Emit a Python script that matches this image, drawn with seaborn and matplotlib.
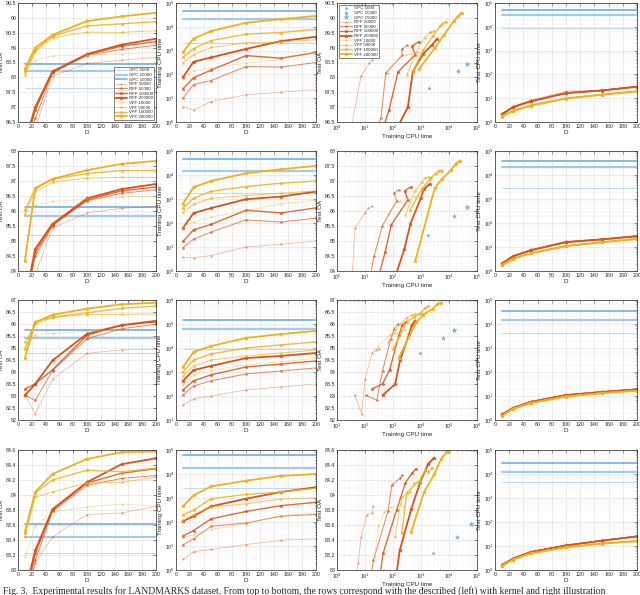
import matplotlib
matplotlib.use("Agg")
import matplotlib.pyplot as plt
import seaborn as sns
from matplotlib.ticker import LogLocator, MultipleLocator, FuncFormatter, NullFormatter

# D values (number of features)
D = [10, 25, 50, 100, 150, 200]
rff_labels = ["RFF 10000", "RFF 50000", "RFF 100000", "RFF 200000"]
vff_labels = ["VFF 10000", "VFF 50000", "VFF 100000", "VFF 200000"]
gpc_labels = ["GPC 5000", "GPC 10000", "GPC 15000"]

# ---- row 1 ----
oa_rff_1 = [[85.3, 86.3, 88.04, 88.47, 88.58, 88.67],
            [85.5, 86.62, 88.15, 88.74, 88.94, 89.08],
            [85.6, 86.9, 88.18, 88.76, 89.05, 89.2],
            [85.8, 87.0, 88.2, 88.78, 89.1, 89.3]]
oa_vff_1 = [[88.15, 88.57, 88.72, 88.75, 88.79, 88.84],
            [88.08, 88.86, 89.34, 89.52, 89.51, 89.57],
            [88.2, 88.91, 89.39, 89.73, 89.8, 89.87],
            [88.28, 89.0, 89.43, 89.89, 90.05, 90.17]]
gpc_oa_1 = [87.65, 88.2, 88.45]
train_rff_1 = [[4.4, 3.2, 7.2, 14, 18, 23],
               [10, 37, 55, 214, 204, 316],
               [25, 72, 151, 617, 479, 832],
               [76, 339, 513, 1175, 2510, 3800]]
train_vff_1 = [[66, 141, 190, 295, 437, 850],
               [316, 676, 1350, 2140, 2290, 2880],
               [525, 1200, 2630, 4900, 5750, 7760],
               [850, 3200, 6600, 14800, 20900, 28800]]
gpc_train_1 = [2000, 20900, 44700]
test_rff_1 = [[2.3, 4.5, 8.2, 19.5, 22, 32],
              [2.2, 4.3, 7.6, 17, 21.5, 31],
              [2.1, 4.2, 7.4, 16.5, 21.3, 30.5],
              [2.1, 4.1, 7.3, 16.2, 21, 30]]
test_vff_1 = [[1.9, 3.1, 5.2, 10.5, 14.5, 20],
              [1.8, 3.0, 5.0, 10, 14.2, 19.6],
              [1.8, 2.9, 4.9, 9.8, 14, 19.4],
              [1.7, 2.9, 4.8, 9.7, 13.9, 19.2]]
gpc_test_1 = [8500, 31000, 49000]

# ---- row 2 ----
oa_rff_2 = [[82.5, 83.9, 85.43, 85.94, 86.09, 86.15],
            [82.8, 84.49, 85.51, 86.34, 86.59, 86.71],
            [82.9, 84.62, 85.54, 86.37, 86.67, 86.8],
            [83.0, 84.74, 85.57, 86.42, 86.73, 86.9]]
oa_vff_2 = [[85.9, 86.2, 86.32, 86.4, 86.47, 86.49],
            [85.87, 86.65, 86.96, 87.1, 87.12, 87.12],
            [86.04, 86.74, 87.06, 87.25, 87.35, 87.35],
            [84.35, 86.76, 87.07, 87.36, 87.57, 87.67]]
gpc_oa_2 = [85.19, 85.83, 86.12]
train_rff_2 = [[3.7, 3.5, 4.4, 10, 13, 18],
               [9.5, 21, 42, 135, 110, 158],
               [17, 52, 87, 339, 263, 427],
               [62, 257, 417, 977, 1260, 2040]]
train_vff_2 = [[68, 110, 174, 331, 631, 891],
               [275, 603, 1070, 1380, 1740, 2190],
               [417, 1070, 2090, 3310, 4570, 5620],
               [630, 3090, 5620, 11750, 17400, 24000]]
gpc_train_2 = [1780, 15100, 44700]
test_rff_2 = [[2.2, 4.4, 7.8, 17.5, 22, 30],
              [2.1, 4.2, 7.4, 16.3, 21, 29],
              [2.1, 4.1, 7.3, 16, 20.8, 28.5],
              [2.0, 4.0, 7.2, 15.8, 20.5, 28]]
test_vff_2 = [[1.9, 3.4, 5.8, 11.5, 16.5, 23],
              [1.8, 3.3, 5.6, 11.2, 16, 22.5],
              [1.8, 3.2, 5.5, 11, 15.8, 22],
              [1.7, 3.2, 5.4, 10.8, 15.5, 21.5]]
gpc_test_2 = [2900, 21400, 39800]

# ---- row 3 ----
oa_rff_3 = [[83.05, 82.26, 83.7, 84.78, 84.92, 84.95],
            [83.03, 82.82, 84.06, 85.39, 85.8, 85.99],
            [83.29, 83.51, 84.09, 85.53, 85.95, 86.09],
            [83.03, 83.5, 84.48, 85.59, 85.95, 86.13]]
oa_vff_3 = [[85.06, 85.55, 85.61, 85.7, 85.75, 85.75],
            [85.23, 85.99, 86.27, 86.39, 86.4, 86.42],
            [84.95, 86.1, 86.28, 86.47, 86.65, 86.75],
            [84.58, 86.07, 86.38, 86.64, 86.82, 86.89]]
gpc_oa_3 = [84.81, 85.43, 85.75]
train_rff_3 = [[43, 76, 100, 178, 240, 316],
               [110, 263, 427, 832, 1100, 1480],
               [178, 427, 759, 1620, 2140, 2880],
               [427, 1200, 1780, 3800, 4680, 6170]]
train_vff_3 = [[288, 759, 1200, 1950, 2630, 3800],
               [676, 1780, 3160, 4680, 6170, 8320],
               [1000, 3160, 5620, 10000, 13500, 17800],
               [1580, 6760, 12000, 26300, 38000, 51300]]
gpc_train_3 = [9100, 61700, 148000]
test_rff_3 = [[1.8, 3.3, 6.0, 11.5, 15.5, 20],
              [1.7, 3.2, 5.8, 11.2, 15, 19.5],
              [1.7, 3.1, 5.7, 11, 14.8, 19],
              [1.7, 3.1, 5.6, 10.8, 14.5, 18.8]]
test_vff_3 = [[1.6, 3.0, 5.3, 10, 13.8, 17.5],
              [1.6, 2.9, 5.2, 9.8, 13.5, 17],
              [1.5, 2.9, 5.1, 9.6, 13.2, 16.8],
              [1.5, 2.8, 5.0, 9.5, 13, 16.5]]
gpc_test_3 = [4300, 14800, 34700]

# ---- row 4 ----
oa_rff_4 = [[82.4, 83.1, 83.44, 83.74, 83.76, 83.85],
            [82.5, 83.13, 83.78, 84.13, 84.22, 84.26],
            [82.6, 83.22, 83.8, 84.16, 84.29, 84.35],
            [82.7, 83.26, 83.81, 84.17, 84.41, 84.49]]
oa_vff_4 = [[83.17, 83.59, 83.77, 83.84, 83.88, 83.85],
            [83.44, 83.97, 84.04, 84.16, 84.17, 84.24],
            [83.49, 84.03, 84.2, 84.33, 84.31, 84.36],
            [83.51, 84.04, 84.28, 84.48, 84.57, 84.58]]
gpc_oa_4 = [83.22, 83.44, 83.61]
train_rff_4 = [[2.8, 5.8, 7.2, 11.5, 17.4, 20],
               [11, 20, 66, 91, 174, 209],
               [26, 44, 135, 275, 479, 661],
               [107, 174, 447, 933, 1780, 2820]]
train_vff_4 = [[22, 30, 49, 85, 186, 224],
               [117, 204, 417, 575, 912, 1020],
               [204, 309, 933, 1410, 1780, 2570],
               [447, 1290, 3020, 5250, 8320, 10000]]
gpc_train_4 = [2690, 18600, 60300]
test_rff_4 = [[1.7, 3.1, 5.8, 11, 17.5, 26],
              [1.6, 3.0, 5.7, 10.7, 17, 25.5],
              [1.6, 3.0, 5.6, 10.5, 16.8, 25],
              [1.6, 2.95, 5.6, 10.5, 16.5, 25]]
test_vff_4 = [[1.5, 2.8, 5.2, 9.2, 13, 17],
              [1.5, 2.7, 5.0, 9.0, 12.8, 16.5],
              [1.5, 2.7, 5.0, 8.9, 12.6, 16],
              [1.45, 2.65, 4.9, 8.8, 12.5, 15.8]]
gpc_test_4 = [4680, 12600, 28200]

oa_lims = [(86.5, 90.5), (84, 88), (82, 87), (83, 84.6)]
oa_steps = [0.5, 0.5, 0.5, 0.2]
train_lims = [(1, 1e5), (1, 1e5), (10, 1e6), (1, 1e5)]
test_lims = [(1, 1e5), (1, 1e5), (1, 1e5), (1, 1e5)]

caption = ("Fig. 3.  Experimental results for LANDMARKS dataset. From top to bottom, the rows "
           "correspond with the described (left) with kernel and right illustration")

rows = [
    (oa_rff_1, oa_vff_1, gpc_oa_1, train_rff_1, train_vff_1, gpc_train_1, test_rff_1, test_vff_1, gpc_test_1),
    (oa_rff_2, oa_vff_2, gpc_oa_2, train_rff_2, train_vff_2, gpc_train_2, test_rff_2, test_vff_2, gpc_test_2),
    (oa_rff_3, oa_vff_3, gpc_oa_3, train_rff_3, train_vff_3, gpc_train_3, test_rff_3, test_vff_3, gpc_test_3),
    (oa_rff_4, oa_vff_4, gpc_oa_4, train_rff_4, train_vff_4, gpc_train_4, test_rff_4, test_vff_4, gpc_test_4),
]

# styles
RFF_C = "#d95319"
VFF_C = "#edb120"
GPC_C = ["#b3d5ee", "#a2cbea", "#6fafdf"]
GPC_LW = [0.6, 1.6, 1.2]
GPC_MS = [6, 9, 14]
ALPHA = [0.45, 0.65, 0.85, 1.0]
LW = [0.5, 0.75, 1.0, 1.3]
MS = [1.8, 2.2, 2.6, 3.0]

sns.set_style("white")
plt.rcParams["font.family"] = ["Liberation Sans", "DejaVu Sans"]
plt.rcParams["mathtext.default"] = "regular"

fig = plt.figure(figsize=(6.4, 5.95), dpi=100)
W, H = 640.0, 595.0
row_top = [3, 151, 300, 450]
row_bot = [122, 271, 420, 570]
col_l = [18, 176, 337, 495]
col_r = [156, 316, 477, 637]


def style_axes(ax, logx=False, logy=False):
    for s in ax.spines.values():
        s.set_color("#262626")
        s.set_linewidth(0.5)
    ax.tick_params(which="both", direction="in", top=True, right=True,
                   labelsize=3.8, pad=1.1, colors="#262626", width=0.4)
    ax.tick_params(which="major", length=2)
    ax.tick_params(which="minor", length=1)
    ax.grid(True, which="major", color="#dcdcdc", lw=0.4)
    if logx:
        ax.set_xscale("log")
        ax.xaxis.set_major_locator(LogLocator(base=10, numticks=10))
        ax.xaxis.set_minor_locator(LogLocator(base=10, subs=range(2, 10), numticks=100))
        ax.xaxis.set_minor_formatter(NullFormatter())
        ax.grid(True, which="minor", axis="x", color="#efefef", lw=0.3)
    if logy:
        ax.set_yscale("log")
        ax.yaxis.set_major_locator(LogLocator(base=10, numticks=10))
        ax.yaxis.set_minor_locator(LogLocator(base=10, subs=range(2, 10), numticks=100))
        ax.yaxis.set_minor_formatter(NullFormatter())
        ax.grid(True, which="minor", axis="y", color="#efefef", lw=0.3)
    ax.set_axisbelow(True)


def line(ax, x, y, color, lw, alpha, ms, label=None, sort=True):
    sns.lineplot(x=x, y=y, ax=ax, color=color, linewidth=lw, alpha=alpha,
                 marker="*", markersize=ms, markeredgecolor=color, markerfacecolor=color,
                 markeredgewidth=0.3, sort=sort, estimator=None, label=label, legend=False)


def d_axis(ax):
    ax.set_xlim(0, 200)
    ax.xaxis.set_major_locator(MultipleLocator(20))
    ax.set_xlabel("D", fontsize=4.5, labelpad=0.8)


gfmt = FuncFormatter(lambda v, p: "%g" % round(v, 2))

for r, (oa_rff, oa_vff, gpc_oa, tr_rff, tr_vff, gpc_tr, te_rff, te_vff, gpc_te) in enumerate(rows):
    axs = []
    for c in range(4):
        rect = [col_l[c] / W, 1 - row_bot[r] / H, (col_r[c] - col_l[c]) / W, (row_bot[r] - row_top[r]) / H]
        axs.append(fig.add_axes(rect))
    a1, a2, a3, a4 = axs

    # panel 1: Test OA vs D
    style_axes(a1)
    for i in range(3):
        sns.lineplot(x=D, y=[gpc_oa[i]] * len(D), ax=a1, color=GPC_C[i], linewidth=GPC_LW[i],
                     label=gpc_labels[i], legend=False)
    for i in range(4):
        line(a1, D, oa_rff[i], RFF_C, LW[i], ALPHA[i], MS[i], rff_labels[i])
    for i in range(4):
        line(a1, D, oa_vff[i], VFF_C, LW[i], ALPHA[i], MS[i], vff_labels[i])
    d_axis(a1)
    a1.set_ylim(*oa_lims[r])
    a1.yaxis.set_major_locator(MultipleLocator(oa_steps[r]))
    a1.yaxis.set_major_formatter(gfmt)
    a1.set_ylabel("Test OA", fontsize=4.3)
    a1.yaxis.set_label_coords((3.8 - col_l[0]) / (col_r[0] - col_l[0]), 0.5)

    # panel 2: Training CPU time vs D
    style_axes(a2, logy=True)
    for i in range(3):
        sns.lineplot(x=D, y=[gpc_tr[i]] * len(D), ax=a2, color=GPC_C[i], linewidth=GPC_LW[i], legend=False)
    for i in range(4):
        line(a2, D, tr_rff[i], RFF_C, LW[i], ALPHA[i], MS[i])
    for i in range(4):
        line(a2, D, tr_vff[i], VFF_C, LW[i], ALPHA[i], MS[i])
    d_axis(a2)
    a2.set_ylim(*train_lims[r])
    a2.set_ylabel("Training CPU time", fontsize=4.5, labelpad=1.5)

    # panel 3: Test OA vs Training CPU time
    style_axes(a3, logx=True)
    for i in range(3):
        sns.scatterplot(x=[gpc_tr[i]], y=[gpc_oa[i]], ax=a3, marker="*", s=GPC_MS[i],
                        color=GPC_C[2], edgecolor=GPC_C[2], linewidth=0.3,
                        label=gpc_labels[i], legend=False)
    for i in range(4):
        line(a3, tr_rff[i], oa_rff[i], RFF_C, LW[i], ALPHA[i], MS[i], rff_labels[i], sort=False)
    for i in range(4):
        line(a3, tr_vff[i], oa_vff[i], VFF_C, LW[i], ALPHA[i], MS[i], vff_labels[i], sort=False)
    a3.set_xlim(*train_lims[r])
    a3.set_ylim(*oa_lims[r])
    a3.yaxis.set_major_locator(MultipleLocator(oa_steps[r]))
    a3.yaxis.set_major_formatter(gfmt)
    a3.set_xlabel("Training CPU time", fontsize=4.5, labelpad=0.5)
    a3.set_ylabel("Test OA", fontsize=4.5, labelpad=1.5)

    # panel 4: Test CPU time vs D
    style_axes(a4, logy=True)
    for i in range(3):
        sns.lineplot(x=D, y=[gpc_te[i]] * len(D), ax=a4, color=GPC_C[i], linewidth=GPC_LW[i], legend=False)
    for i in range(4):
        line(a4, D, te_rff[i], RFF_C, LW[i], ALPHA[i], MS[i])
    for i in range(4):
        line(a4, D, te_vff[i], VFF_C, LW[i], ALPHA[i], MS[i])
    d_axis(a4)
    a4.set_ylim(*test_lims[r])
    a4.set_ylabel("Test CPU time", fontsize=4.5, labelpad=1.5)

    if r == 0:
        for ax, loc in ((a1, "lower right"), (a3, "upper left")):
            h, l = ax.get_legend_handles_labels()
            leg = ax.legend(h, l, loc=loc, fontsize=3.2, labelspacing=0.12, handlelength=2.6,
                            handletextpad=0.5, borderpad=0.3, borderaxespad=0.4,
                            frameon=True, fancybox=False, edgecolor="#262626", framealpha=1)
            leg.get_frame().set_linewidth(0.4)

fig.text(0.004, 1.2 / H, caption, fontsize=6.9, family=["Liberation Serif", "DejaVu Serif"],
         ha="left", va="baseline")

fig.savefig("out.png", dpi=100)
